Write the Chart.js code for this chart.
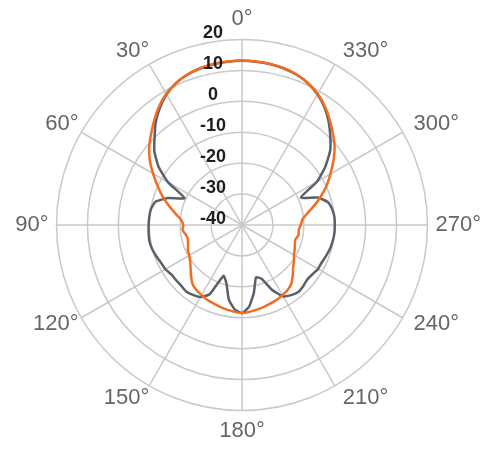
<!DOCTYPE html>
<html>
<head>
<meta charset="utf-8">
<script src="https://cdn.jsdelivr.net/npm/chart.js@4"></script>
<style>
  html, body { margin: 0; padding: 0; background: #fff; }
  canvas { display: block; }
</style>
</head>
<body>
<canvas id="chart" width="488" height="451"></canvas>
<script>
// angles in degrees, counter-clockwise from the top (0 = up, 90 = left)
const angles = [
  0, 5, 10, 15, 20, 25, 30, 35, 40, 45, 50, 55, 60, 65, 70, 75, 80, 85,
  90, 95, 100, 105, 110, 115, 120, 125, 130, 135, 140, 145, 150, 155, 160, 165, 170, 175,
  180, 185, 190, 195, 200, 205, 210, 215, 220, 225, 230, 235, 240, 245, 250, 255, 260, 265,
  270, 275, 280, 285, 290, 295, 300, 305, 310, 315, 320, 325, 330, 335, 340, 345, 350, 355
];

// grey trace (dB)
const greyValues = [
  13.1, 13.0, 12.8, 12.4, 11.7, 10.6, 8.8, 6.3, 3.4, 0.0, -3.0, -7.0, -12.4, -19.5, -14.5, -11.0, -10.1, -9.9,
  -9.8, -9.7, -9.6, -9.9, -10.5, -11.1, -11.4, -12.1, -12.2, -12.2, -11.9, -12.4, -13.1, -15.3, -22.5, -20.5, -15.5, -12.6,
  -11.5, -13.5, -17.8, -22.5, -21.5, -16.8, -13.3, -12.3, -11.7, -12.0, -12.5, -12.2, -11.6, -11.5, -11.0, -10.5, -10.2, -10.0,
  -10.0, -10.0, -10.4, -11.3, -14.0, -19.0, -12.0, -7.1, -2.8, 0.4, 3.6, 6.5, 8.8, 10.6, 11.7, 12.4, 12.8, 13.0
];

// orange trace (dB)
const orangeValues = [
  13.2, 13.1, 12.9, 12.5, 11.8, 10.6, 9.0, 6.8, 4.2, 1.6, -0.8, -3.6, -6.8, -9.8, -12.6, -15.4, -18.0, -20.2,
  -21.0, -20.7, -21.6, -21.9, -21.4, -20.7, -20.3, -19.5, -18.3, -16.7, -15.1, -14.3, -13.8, -13.3, -13.0, -12.6, -12.2, -11.8,
  -11.5, -11.8, -12.2, -12.6, -13.0, -13.3, -13.8, -14.3, -15.2, -16.8, -18.4, -19.5, -20.6, -21.2, -21.8, -22.1, -21.4, -21.6,
  -21.0, -20.4, -18.6, -15.8, -12.8, -9.8, -7.0, -3.9, -0.9, 1.6, 4.2, 6.8, 9.0, 10.6, 11.8, 12.5, 12.9, 13.1
];

const radialTicks = [-40, -30, -20, -10, 0, 10, 20];

// radar goes clockwise from the top, so walk the angles backwards
const order = angles.map((a, i) => (angles.length - i) % angles.length);
const labels = order.map(i => angles[i] + "°");
const greyData = order.map(i => greyValues[i]);
const orangeData = order.map(i => orangeValues[i]);
const isMajor = i => angles[order[i]] % 30 === 0;

const gridColor = "#c9c9c9";
const labelFont = '"Liberation Sans", Arial, sans-serif';

// radial tick labels sit left of the 0° spoke, a bit above each ring
const tickLabels = {
  id: "tickLabels",
  afterDatasetsDraw(chart) {
    const r = chart.scales.r;
    const ctx = chart.ctx;
    ctx.save();
    ctx.font = "bold 18px " + labelFont;
    ctx.fillStyle = "#1e1e1e";
    ctx.textAlign = "center";
    ctx.textBaseline = "middle";
    radialTicks.forEach(v => {
      const d = r.getDistanceFromCenterForValue(v);
      ctx.fillText(String(v), r.xCenter - 29, r.yCenter - d - 6);
    });
    ctx.restore();
  }
};

// angle labels, placed a little more centred on the spokes than chart.js does
const angleLabels = {
  id: "angleLabels",
  afterDraw(chart) {
    const r = chart.scales.r;
    const ctx = chart.ctx;
    ctx.save();
    ctx.font = "22px " + labelFont;
    ctx.fillStyle = "#666";
    ctx.textBaseline = "middle";
    labels.forEach((lab, i) => {
      if (!isMajor(i)) return;
      const a = r.getIndexAngle(i);
      const s = Math.sin(a), c = Math.cos(a);
      const p = r.getPointPosition(i, r.drawingArea + 8);
      let x = p.x, y;
      if (Math.abs(c) > 0.95) {
        ctx.textAlign = "center";
        y = p.y - c * 12.6;
      } else if (Math.abs(s) > 0.95) {
        ctx.textAlign = s > 0 ? "left" : "right";
        y = p.y;
      } else {
        ctx.textAlign = s > 0 ? "left" : "right";
        x += 4;
        y = p.y - 0.65 - c * 6.5;
      }
      ctx.fillText(lab, x, y);
    });
    ctx.restore();
  }
};

new Chart(document.getElementById("chart"), {
  type: "radar",
  data: {
    labels: labels,
    datasets: [
      {
        label: "orange",
        data: orangeData,
        borderColor: "#f26d21",
        borderWidth: 2.5,
        pointRadius: 0,
        fill: false,
        tension: 0.15
      },
      {
        label: "grey",
        data: greyData,
        borderColor: "#59606a",
        borderWidth: 2.5,
        pointRadius: 0,
        fill: false,
        tension: 0.15
      }
    ]
  },
  options: {
    responsive: false,
    animation: false,
    layout: { padding: { left: 10, top: 3, bottom: 3, right: 0 } },
    plugins: {
      legend: { display: false },
      tooltip: { enabled: false }
    },
    scales: {
      r: {
        min: -40,
        max: 20,
        ticks: { stepSize: 10, display: false },
        grid: { circular: true, color: gridColor, lineWidth: 1.5 },
        angleLines: {
          color: ctx => isMajor(ctx.index) ? gridColor : "rgba(0,0,0,0)",
          lineWidth: ctx => isMajor(ctx.index) ? 1.5 : 0
        },
        // kept for the layout only, the visible labels come from angleLabels
        pointLabels: {
          callback: (label, i) => isMajor(i) ? label : "",
          color: "rgba(0,0,0,0)",
          padding: 8,
          font: { family: labelFont, size: 22 }
        }
      }
    }
  },
  plugins: [tickLabels, angleLabels]
});
</script>
</body>
</html>
